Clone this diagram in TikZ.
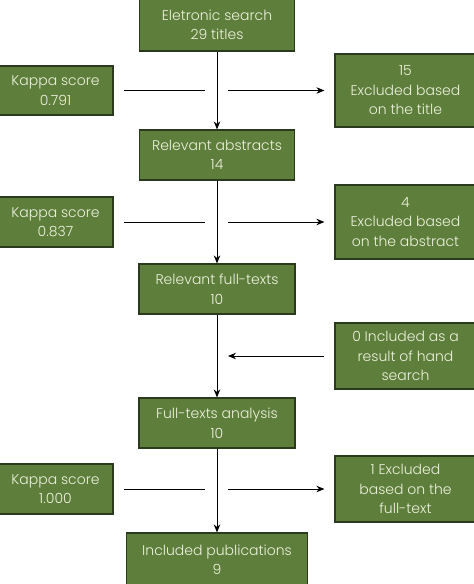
\documentclass[tikz,border=0pt]{standalone}
\usepackage{fontspec}
\setmainfont{Poppins}[UprightFont=* Light]
\usetikzlibrary{arrows.meta}
\definecolor{boxgreen}{HTML}{5E7E3C}
\definecolor{boxedge}{HTML}{2B3A1C}
\definecolor{boxtext}{HTML}{EEF1DE}
\begin{document}
\begin{tikzpicture}[x=1pt,y=-1pt,
  gbox/.style={draw=boxedge, line width=1.2pt, fill=boxgreen, text=boxtext,
    align=center, inner sep=0pt, font=\fontsize{14}{19.5}\selectfont},
  conn/.style={line width=0.9pt, draw=black},
  arr/.style={conn, -{Stealth[length=8pt,width=6.5pt]}}]
\useasboundingbox (0,0) rectangle (474,584);
\fill[white] (0,0) rectangle (474,584);
% main column
\node[gbox, minimum width=155, minimum height=52] (b1) at (217,25) {Eletronic search\\29 titles};
\node[gbox, minimum width=155, minimum height=50] (b2) at (217,155) {Relevant abstracts\\14};
\node[gbox, minimum width=156, minimum height=50] (b3) at (217,289) {Relevant full-texts\\10};
\node[gbox, minimum width=156, minimum height=50] (b4) at (217,423) {Full-texts analysis\\10};
\node[gbox, minimum width=181, minimum height=53] (b5) at (217,559.5) {Included publications\\9};
% left kappa
\node[gbox, minimum width=115, minimum height=49] (k1) at (55.5,90.5) {Kappa score\\0.791};
\node[gbox, minimum width=115, minimum height=50] (k2) at (55.5,222) {Kappa score\\0.837};
\node[gbox, minimum width=115, minimum height=50] (k3) at (55.5,489) {Kappa score\\1.000};
% right boxes
\node[gbox, minimum width=141, minimum height=73] (e1) at (405.5,90.5) {15\\Excluded based\\on the title};
\node[gbox, minimum width=141, minimum height=74] (e2) at (405.5,222) {4\\Excluded based\\on the abstract};
\node[gbox, minimum width=141, minimum height=66] (h1) at (405.5,356) {0 Included as a\\result of hand\\search};
\node[gbox, minimum width=141, minimum height=66] (e3) at (405.5,489) {1 Excluded\\based on the\\full-text};
% vertical arrows
\draw[arr] (b1) -- (b2);
\draw[arr] (b2) -- (b3);
\draw[arr] (b3) -- (b4);
\draw[arr] (b4) -- (b5);
% horizontal gap coordinates
\coordinate (g1a) at (205,90.5); \coordinate (g1b) at (228,90.5);
\coordinate (g2a) at (205,222); \coordinate (g2b) at (228,222);
\coordinate (g3a) at (205,489); \coordinate (g3b) at (228,489);
\coordinate (hh) at (228,356);
\draw[conn] ([xshift=10pt]k1.east) -- (g1a);
\draw[arr] (g1b) -- ([xshift=-10pt]e1.west);
\draw[conn] ([xshift=10pt]k2.east) -- (g2a);
\draw[arr] (g2b) -- ([xshift=-10pt]e2.west);
\draw[conn] ([xshift=10pt]k3.east) -- (g3a);
\draw[arr] (g3b) -- ([xshift=-10pt]e3.west);
\draw[arr] ([xshift=-10pt]h1.west) -- (hh);
\end{tikzpicture}
\end{document}
